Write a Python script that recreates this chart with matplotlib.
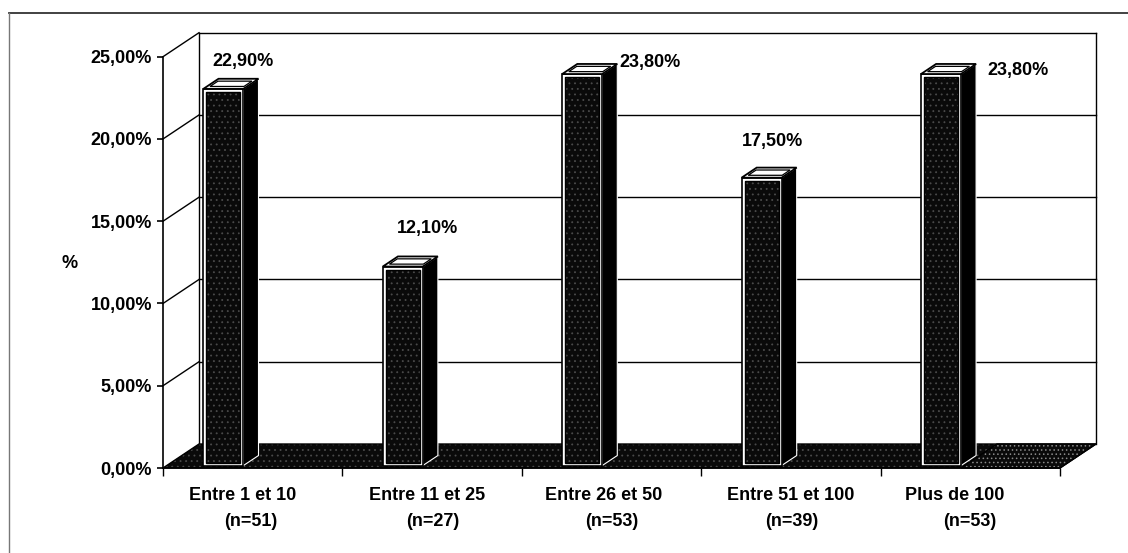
# coding: utf-8
import numpy as np
import matplotlib
matplotlib.use('Agg')
import matplotlib.pyplot as plt
from matplotlib.patches import Polygon
from matplotlib.lines import Line2D

plt.rcParams['font.family'] = ['Liberation Sans', 'DejaVu Sans']
plt.rcParams['font.weight'] = 'bold'
plt.rcParams['hatch.color'] = '#4a4a4a'
plt.rcParams['hatch.linewidth'] = 0.6

# data
categories = ['Entre 1 et 10', 'Entre 11 et 25', 'Entre 26 et 50', 'Entre 51 et 100', 'Plus de 100']
effectifs = ['(n=51)', '(n=27)', '(n=53)', '(n=39)', '(n=53)']
values = [22.9, 12.1, 23.8, 17.5, 23.8]
y_ticks = [0, 5, 10, 15, 20, 25]

# label placement (pixels)
value_offsets = [(20, 27), (25, 38), (68, 12), (11, 36), (77, 4)]
cat_dx1 = [-10, -5, -8, 0, -16]
cat_dx2 = [-2, 1, 0, 1, -1]

W, H = 1128, 553
PX_X = 897 / 5.0        # pixels per category
PX_Y = 411.3 / 25.0     # pixels per percent
DX = 36 / PX_X          # depth of the floor
DY = 24 / PX_Y
BAR_L = 0.205
BAR_W = 40 / PX_X
Z0, Z1 = 0.1, 0.52      # bar depth range


def shift(pts, z):
    return [(x + z * DX, y + z * DY) for x, y in pts]


def poly(ax, pts, fc, ec, lw, z, hatch=None):
    p = Polygon(pts, closed=True, facecolor=fc, edgecolor=ec, linewidth=lw,
                hatch=hatch, zorder=z, clip_on=False)
    ax.add_patch(p)
    return p


def textured(ax, pts, z, hatch='...', col='#4a4a4a'):
    # dark stippled fill, outline drawn on top
    poly(ax, pts, '#0a0a0a', col, 0, z, hatch=hatch)
    poly(ax, pts, 'none', 'black', 1.0, z + 0.01)


def draw_bar(ax, x0, v, z):
    x1 = x0 + BAR_W
    ix, iy = 3 / PX_X, 3 / PX_Y
    front = shift([(x0, 0), (x1, 0), (x1, v), (x0, v)], Z0)
    side = shift([(x1, 0), (x1, v)], Z0) + shift([(x1, v), (x1, 0)], Z1)
    top = shift([(x0, v), (x1, v)], Z0) + shift([(x1, v), (x0, v)], Z1)
    inner = shift([(x0 + ix, iy), (x1 - ix, iy), (x1 - ix, v - iy), (x0 + ix, v - iy)], Z0)
    poly(ax, side, 'black', 'white', 0.8, z)
    poly(ax, front, 'white', 'black', 1.2, z + 0.1)
    textured(ax, inner, z + 0.2)
    poly(ax, top, 'white', 'black', 1.3, z + 0.3)
    # inner rim of the cap
    cap_in = shift([(x0 + ix, v), (x1 - ix, v)], Z0 + 0.1) + shift([(x1 - ix, v), (x0 + ix, v)], Z1 - 0.1)
    poly(ax, cap_in, 'none', 'black', 0.9, z + 0.4)


fig = plt.figure(figsize=(W / 100, H / 100), dpi=100)
ax = fig.add_axes([163 / W, (H - 468) / H, 897 / W, 411.3 / H])
ax.set_xlim(0, 5)
ax.set_ylim(0, 25)
ax.patch.set_visible(False)

# walls: back grid, side diagonals
for v in y_ticks[1:]:
    ax.plot([DX, 5 + DX], [v + DY, v + DY], color='black', lw=1.0, zorder=1, clip_on=False)
    ax.plot([0, DX], [v, v + DY], color='black', lw=1.0, zorder=1, clip_on=False)
ax.plot([DX, DX], [DY, 25 + DY], color='black', lw=1.0, zorder=1, clip_on=False)
ax.plot([5 + DX, 5 + DX], [DY, 25 + DY], color='black', lw=1.0, zorder=1, clip_on=False)

# floor, lighter grain past the last bar
textured(ax, [(0, 0), (5, 0), (5 + DX, DY), (DX, DY)], 2)
x_end = 4 + BAR_L + BAR_W + Z0 * DX
textured(ax, [(x_end, 0), (5, 0), (5 + DX, DY), (x_end + DX, DY)], 2.1,
         hatch='....', col='#8a8a8a')

for i, v in enumerate(values):
    draw_bar(ax, i + BAR_L, v, 3 + i)
    xc = i + BAR_L + BAR_W / 2
    ax.annotate('{:.2f}%'.format(v).replace('.', ','), xy=(xc + Z0 * DX, v + Z0 * DY),
                xytext=value_offsets[i], textcoords='offset pixels',
                ha='center', va='center', fontsize=13, fontweight='bold', zorder=10)

# category labels on two lines
for i in range(len(categories)):
    ax.annotate(categories[i], xy=(i + 0.5, 0), xytext=(cat_dx1[i], -27), textcoords='offset pixels',
                ha='center', va='center', fontsize=13, fontweight='bold', annotation_clip=False)
    ax.annotate(effectifs[i], xy=(i + 0.5, 0), xytext=(cat_dx2[i], -54), textcoords='offset pixels',
                ha='center', va='center', fontsize=13, fontweight='bold', annotation_clip=False)

# front axes
for s in ['top', 'right']:
    ax.spines[s].set_visible(False)
for s in ['left', 'bottom']:
    ax.spines[s].set_linewidth(1.2)
    ax.spines[s].set_zorder(20)
ax.set_yticks(y_ticks)
ax.set_yticklabels(['{:.2f}%'.format(t).replace('.', ',') for t in y_ticks], fontsize=13,
                   fontweight='bold')
ax.set_xticks(range(6))
ax.set_xticklabels([])
ax.tick_params(axis='y', direction='out', length=4, width=1.2, pad=4)
ax.tick_params(axis='x', direction='out', length=6, width=1.0)

fig.text(70 / W, 1 - 263 / H, '%', fontsize=13, fontweight='bold', ha='center', va='center')

# outer frame
fy = 1 - 12.7 / H
fig.add_artist(Line2D([9 / W, 1], [fy, fy], color='#333333', lw=1.3))
fig.add_artist(Line2D([9 / W, 9 / W], [0, fy], color='#777777', lw=1.0))

fig.savefig('out.png', dpi=100)
